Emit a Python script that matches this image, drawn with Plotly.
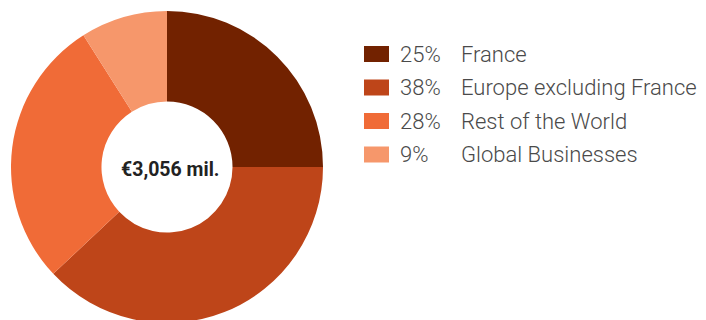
import plotly.graph_objects as go

regions = ["France", "Europe excluding France", "Rest of the World", "Global Businesses"]
shares = [25, 38, 28, 9]
pct_labels = ["25%", "38%", "28%", "9%"]
colors = ["#722200", "#BE4519", "#F06B37", "#F6976B"]
total_label = "€3,056 mil."

W, H = 706, 334

fig = go.Figure()
fig.add_trace(go.Pie(
    labels=regions, values=shares, sort=False, direction="clockwise", rotation=0,
    hole=0.42, marker=dict(colors=colors, line=dict(width=0)),
    textinfo="none", hoverinfo="label+percent", showlegend=False,
    domain=dict(x=[11 / W, 323 / W], y=[0, 1]),
))

fig.add_annotation(x=170 / W, y=1 - 169 / H, xref="paper", yref="paper",
                   text=total_label, showarrow=False,
                   font=dict(family="Roboto", size=19.5, color="#222222", weight="bold"),
                   xanchor="center", yanchor="middle")

row_y = [54, 87.5, 121, 154.5]
shapes = []
for i, (r, p, c) in enumerate(zip(regions, pct_labels, colors)):
    cy = row_y[i]
    shapes.append(dict(type="rect", xref="paper", yref="paper",
                       x0=364 / W, x1=389 / W, y0=1 - (cy - 8) / H, y1=1 - (cy + 8) / H,
                       fillcolor=c, line=dict(width=0)))
    fig.add_annotation(x=398 / W, y=1 - cy / H, xref="paper", yref="paper", text=p,
                       showarrow=False, xanchor="left", yanchor="middle",
                       font=dict(family="Roboto", size=22, color="#4a4a4a", weight=300))
    fig.add_annotation(x=459 / W, y=1 - cy / H, xref="paper", yref="paper", text=r,
                       showarrow=False, xanchor="left", yanchor="middle",
                       font=dict(family="Roboto", size=22, color="#4a4a4a", weight=300))

fig.update_layout(width=W, height=H, margin=dict(l=0, r=0, t=0, b=0),
                  paper_bgcolor="white", plot_bgcolor="white", shapes=shapes)
fig.write_html("out.html")
